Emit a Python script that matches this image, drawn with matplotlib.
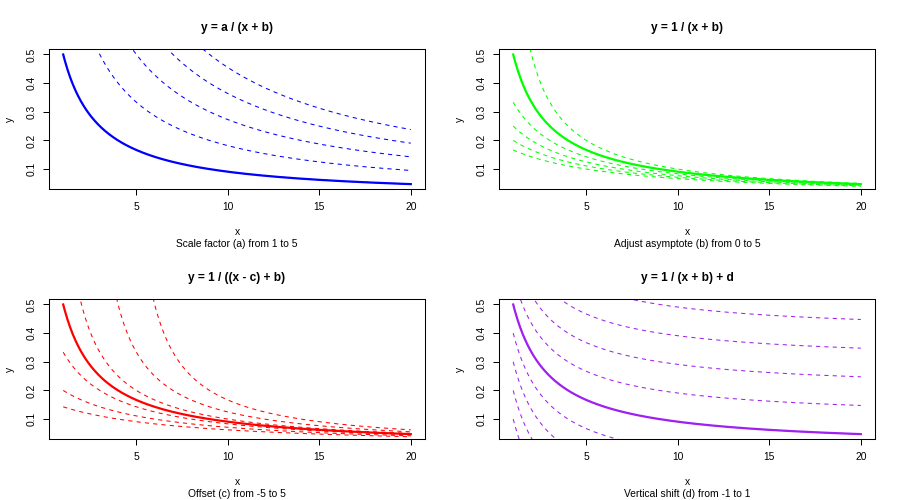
import numpy as np
import matplotlib
matplotlib.use("Agg")
import matplotlib.pyplot as plt

plt.rcParams['font.family'] = ['Liberation Sans', 'DejaVu Sans']

# parameter values for each panel (solid curve is the base 1 / (x + 1))
a_values = [1, 2, 3, 4, 5]
b_values = [0, 1, 2, 3, 4, 5]
c_values = [-5, -3, -1, 1, 3, 5]
d_values = [round(v, 1) for v in np.arange(-1.0, 1.01, 0.1)]

titles = ["y = a / (x + b)", "y = 1 / (x + b)",
          "y = 1 / ((x - c) + b)", "y = 1 / (x + b) + d"]
subtitles = ["Scale factor (a) from 1 to 5", "Adjust asymptote (b) from 0 to 5",
             "Offset (c) from -5 to 5", "Vertical shift (d) from -1 to 1"]
colors = ["#0000FF", "#00FF00", "#FF0000", "#A020F0"]
x_ticks = [5, 10, 15, 20]
y_ticks = [0.1, 0.2, 0.3, 0.4, 0.5]

x = np.linspace(1, 20, 400)
base = 1 / (x + 1)


def curves(k):
    out = []
    if k == 0:
        for a in a_values:
            out.append(a / (x + 1))
    elif k == 1:
        for b in b_values:
            out.append(1 / (x + b))
    elif k == 2:
        for c in c_values:
            den = (x - c) + 1
            y = np.where(den > 0, 1 / np.where(den > 0, den, 1), np.nan)
            out.append(y)
    else:
        for d in d_values:
            out.append(base + d)
    return out


fig = plt.figure(figsize=(9, 5), dpi=100)
W, H = 900, 500
boxes = [(49.3, 49.3), (499.3, 49.3), (49.3, 299.3), (499.3, 299.3)]
bw, bh = 375.4, 140.0

ylo, yhi = base.min(), base.max()
yr = (yhi - ylo) * 0.04
for k, (lx, ty) in enumerate(boxes):
    ax = fig.add_axes([lx / W, 1 - (ty + bh) / H, bw / W, bh / H])
    for y in curves(k):
        ax.plot(x, y, color=colors[k], lw=0.75, linestyle=(0, (4, 4)))
    ax.plot(x, base, color=colors[k], lw=1.6)
    ax.set_xlim(1 - 19 * 0.04, 20 + 19 * 0.04)
    ax.set_ylim(ylo - yr, yhi + yr)
    ax.set_xticks(x_ticks)
    ax.set_xticklabels([str(t) for t in x_ticks])
    ax.set_yticks(y_ticks)
    ax.set_yticklabels([str(t) for t in y_ticks], rotation=90, va='center')
    ax.tick_params(length=4.3, width=0.72, labelsize=7.4, pad=4.6, colors='black')
    for s in ax.spines.values():
        s.set_linewidth(0.75)
    ax.annotate(titles[k], xy=(0.5, 1), xycoords='axes fraction',
                xytext=(0, 15.6), textcoords='offset points',
                ha='center', va='center', fontsize=8.6, fontweight='bold')
    ax.annotate("x", xy=(0.5, 0), xycoords='axes fraction',
                xytext=(0, -31.0), textcoords='offset points',
                ha='center', va='center', fontsize=7.4)
    ax.annotate(subtitles[k], xy=(0.5, 0), xycoords='axes fraction',
                xytext=(0, -39.4), textcoords='offset points',
                ha='center', va='center', fontsize=7.4)
    ax.annotate("y", xy=(0, 0.5), xycoords='axes fraction',
                xytext=(-28.5, 0), textcoords='offset points',
                ha='center', va='center', fontsize=7.4, rotation=90)

fig.savefig("out.png", dpi=100)
